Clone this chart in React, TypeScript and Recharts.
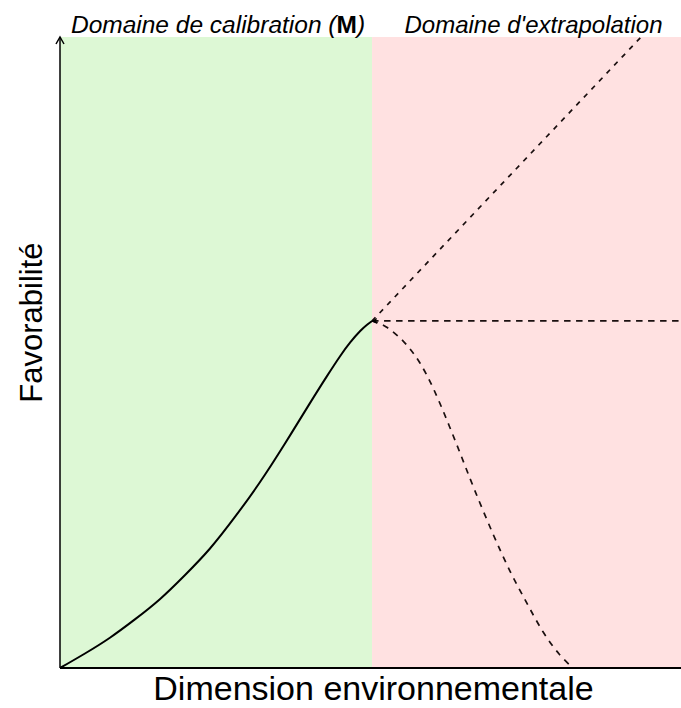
import { Line, LineChart, ReferenceArea, ReferenceDot, XAxis, YAxis } from 'recharts'

// calibration domain (solid curve)
const calibX = [0, 4, 8, 12, 16, 20, 24, 28, 32, 36, 40, 42.8, 44.9, 46.5, 48.1, 49.2, 50]
const calibY = [0, 2.3, 4.8, 7.7, 10.9, 14.7, 18.9, 23.9, 29.4, 35.5, 41.9, 46.3, 49.45, 51.6, 53.4, 54.4, 55]

// extrapolation scenarios (dashed)
const riseX = [50, 93.1]
const riseY = [55, 100]
const flatX = [50, 99.5]
const flatY = [55, 55]
const fallX = [50, 52.1, 55.3, 57.7, 59.8, 62.0, 64.1, 66.2, 69.4, 72.1, 74.8, 77.4, 80.1, 82.2]
const fallY = [55, 54.4, 51.7, 48.5, 44.5, 39.3, 34.1, 28.7, 21.1, 15.2, 10.3, 5.5, 1.9, 0]

const calibEnd = 50
const xMax = 99.5

const zip = (xs: number[], ys: number[]) => xs.map((x, i) => ({ x, y: ys[i] }))

const FONT = '"Liberation Sans", Arial, sans-serif'

export default function App() {
  return (
    <div style={{ position: 'absolute', left: 0, top: 0, width: 681, height: 708, background: '#fff' }}>
      <LineChart width={681} height={708} margin={{ top: 37, right: 0, bottom: 0, left: 0 }}>
        <ReferenceArea
          x1={0}
          x2={calibEnd}
          fill="#ddf8d5"
          fillOpacity={1}
          stroke="none"
          ifOverflow="visible"
          label={(p: any) => {
            const vb = p.viewBox
            return (
              <text x={vb.x + vb.width / 2 + 2} y={vb.y - 4} textAnchor="middle" fontFamily={FONT} fontSize={24.5} fontStyle="italic" fill="#000">
                Domaine de calibration (<tspan fontWeight="bold" fontStyle="normal">M</tspan>)
              </text>
            )
          }}
        />
        <ReferenceArea
          x1={calibEnd}
          x2={xMax}
          fill="#ffe1e1"
          fillOpacity={1}
          stroke="none"
          ifOverflow="visible"
          label={(p: any) => {
            const vb = p.viewBox
            return (
              <text x={vb.x + vb.width / 2 + 7} y={vb.y - 4} textAnchor="middle" fontFamily={FONT} fontSize={24} fontStyle="italic" fill="#000">
                Domaine d'extrapolation
              </text>
            )
          }}
        />
        <XAxis
          type="number"
          dataKey="x"
          domain={[0, xMax]}
          allowDataOverflow
          tick={false}
          tickLine={false}
          height={40}
          axisLine={{ stroke: '#000', strokeWidth: 2 }}
          label={(p: any) => {
            const vb = p.viewBox
            return (
              <text x={vb.x + vb.width / 2 + 3} y={vb.y + 32} textAnchor="middle" fontFamily={FONT} fontSize={34} fill="#000">
                Dimension environnementale
              </text>
            )
          }}
        />
        <YAxis
          type="number"
          dataKey="y"
          domain={[0, 100]}
          allowDataOverflow
          tick={false}
          tickLine={false}
          width={60}
          axisLine={{ stroke: '#000', strokeWidth: 1.5 }}
          label={(p: any) => {
            const vb = p.viewBox
            const cx = vb.x + 42
            const cy = vb.y + vb.height / 2 - 30
            return (
              <text x={cx} y={cy} transform={`rotate(-90, ${cx}, ${cy})`} textAnchor="middle" fontFamily={FONT} fontSize={31} fill="#000">
                Favorabilité
              </text>
            )
          }}
        />
        <Line data={zip(riseX, riseY)} dataKey="y" type="linear" stroke="#1a0f0f" strokeWidth={1.7} strokeDasharray="5 6" dot={false} activeDot={false} isAnimationActive={false} />
        <Line data={zip(flatX, flatY)} dataKey="y" type="linear" stroke="#1a0f0f" strokeWidth={1.7} strokeDasharray="6.5 5.5" dot={false} activeDot={false} isAnimationActive={false} />
        <Line data={zip(fallX, fallY)} dataKey="y" type="basis" stroke="#1a0f0f" strokeWidth={1.7} strokeDasharray="6 6" dot={false} activeDot={false} isAnimationActive={false} />
        <Line data={zip(calibX, calibY)} dataKey="y" type="natural" stroke="#000" strokeWidth={2} dot={false} activeDot={false} isAnimationActive={false} />
        <ReferenceDot
          x={calibEnd}
          y={55}
          ifOverflow="visible"
          shape={(p: any) => (
            <path d={`M${p.cx - 1},${p.cy} L${p.cx + 5},${p.cy - 3} L${p.cx + 4},${p.cy} L${p.cx + 5},${p.cy + 3} Z`} fill="#000" />
          )}
        />
        <ReferenceDot
          x={0}
          y={100}
          ifOverflow="visible"
          shape={(p: any) => (
            <path d={`M${p.cx - 4},${p.cy + 7} L${p.cx},${p.cy} L${p.cx + 4},${p.cy + 7}`} fill="none" stroke="#000" strokeWidth={1.5} />
          )}
        />
      </LineChart>
    </div>
  )
}
